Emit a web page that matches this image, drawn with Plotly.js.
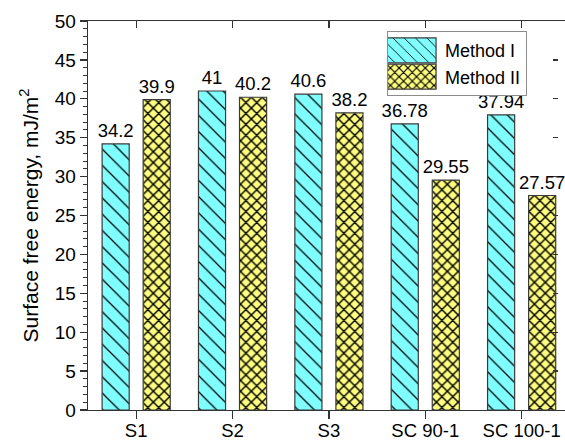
<!DOCTYPE html>
<html>
<head>
<meta charset="utf-8">
<script src="https://cdn.plot.ly/plotly-3.0.1.min.js"></script>
<style>
  html, body { margin: 0; padding: 0; overflow: hidden; background: #fff; }
  #chart { width: 565px; height: 441px; }
</style>
</head>
<body>
<div id="chart"></div>
<script>
const categories = ['S1', 'S2', 'S3', 'SC 90-1', 'SC 100-1'];
const methodI = [34.2, 41, 40.6, 36.78, 37.94];
const methodII = [39.9, 40.2, 38.2, 29.55, 27.57];
const seriesNames = ['Method I', 'Method II'];
const yTicks = [0, 5, 10, 15, 20, 25, 30, 35, 40, 45, 50];

const FONT = 'Liberation Sans, Arial, sans-serif';
const AX = '#333333';

const traceI = {
  type: 'bar', name: seriesNames[0], x: categories, y: methodI,
  marker: { color: '#80ffff', line: { color: '#3a3a3a', width: 1.2 },
            pattern: { shape: '\\', size: 11.5, solidity: 0.11, fgcolor: '#000000', bgcolor: '#80ffff', fgopacity: 1 } },
  text: methodI.map(String), textposition: 'outside', constraintext: 'none', cliponaxis: false,
  textfont: { family: FONT, size: 18.5, color: '#000' }
};
const traceII = {
  type: 'bar', name: seriesNames[1], x: categories, y: methodII,
  marker: { color: '#ffff80', line: { color: '#3a3a3a', width: 1.2 },
            pattern: { shape: 'x', size: 7.7, solidity: 0.34, fgcolor: '#000000', bgcolor: '#ffff80', fgopacity: 1 } },
  text: methodII.map(String), textposition: 'outside', constraintext: 'none', cliponaxis: false,
  textfont: { family: FONT, size: 18.5, color: '#000' }
};
const dummyY2 = { type: 'scatter', x: [], y: [], xaxis: 'x', yaxis: 'y2', showlegend: false, hoverinfo: 'skip' };
const dummyX2 = { type: 'scatter', x: [], y: [], xaxis: 'x2', yaxis: 'y', showlegend: false, hoverinfo: 'skip' };

const xRange = [-0.5, 4.45];

const layout = {
  width: 565, height: 441,
  margin: { l: 88, r: 0, t: 21, b: 31 },
  paper_bgcolor: '#fff', plot_bgcolor: '#fff',
  font: { family: FONT, color: '#000', size: 17 },
  barmode: 'group', bargap: 0.148, bargroupgap: 0.34,
  showlegend: true,
  legend: {
    x: 0.627, y: 0.974, xanchor: 'left', yanchor: 'top',
    bgcolor: '#ffffff', bordercolor: '#8c8c8c', borderwidth: 1,
    font: { family: FONT, size: 18, color: '#000' },
    itemwidth: 47, tracegroupgap: 0
  },
  xaxis: {
    type: 'category', range: xRange, showgrid: false, zeroline: false,
    showline: true, linecolor: AX, linewidth: 1.3,
    ticks: 'outside', ticklen: 8, tickwidth: 1.3, tickcolor: AX,
    ticklabelstandoff: -5,
    tickfont: { family: FONT, size: 18.5, color: '#000' }
  },
  xaxis2: {
    overlaying: 'x', side: 'top', anchor: 'y', range: xRange,
    tickvals: [0, 1, 2, 3, 4], showticklabels: false, showgrid: false, zeroline: false,
    showline: true, linecolor: AX, linewidth: 1.3,
    ticks: 'inside', ticklen: 7, tickwidth: 1.3, tickcolor: AX
  },
  yaxis: {
    range: [0, 50], tickvals: yTicks, showgrid: false, zeroline: false,
    showline: true, linecolor: AX, linewidth: 1.3,
    ticks: 'outside', ticklen: 7, tickwidth: 1.3, tickcolor: AX,
    minor: { dtick: 1, ticks: 'outside', ticklen: 4, tickwidth: 1, tickcolor: AX, showgrid: false },
    tickfont: { family: FONT, size: 19, color: '#000' },
    title: { text: 'Surface free energy, mJ/m<sup>2</sup>', font: { family: FONT, size: 21, color: '#000' }, standoff: 10 }
  },
  yaxis2: {
    overlaying: 'y', side: 'right', anchor: 'free', position: 0.985, range: [0, 50],
    tickvals: yTicks, showticklabels: false, showgrid: false, zeroline: false, showline: false,
    ticks: 'inside', ticklen: 5, tickwidth: 1.3, tickcolor: AX
  }
};

Plotly.newPlot('chart', [traceI, traceII, dummyY2, dummyX2], layout, { staticPlot: true, displayModeBar: false }).then(function (gd) {
  // enlarge legend swatches to the wide rectangles of the original
  gd.querySelectorAll('.legend .traces').forEach(function (tr) {
    tr.querySelectorAll('.legendpoints path').forEach(function (p) {
      p.setAttribute('d', 'M19.5,12.5H-30.5V-12.5H19.5Z');
    });
  });
});
</script>
</body>
</html>
